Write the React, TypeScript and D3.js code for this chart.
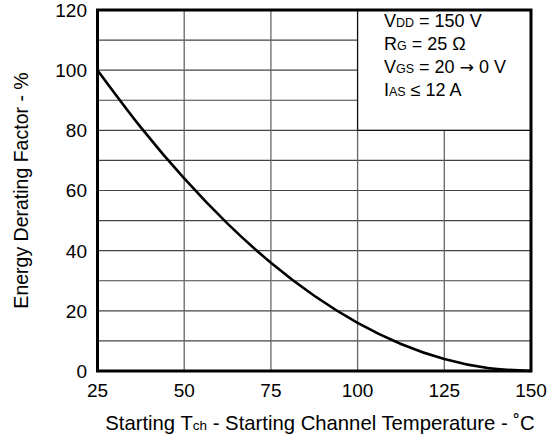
import { useEffect, useRef } from 'react';
import * as d3 from 'd3';

// readings (starting Tch in degC, derating factor in %)
const temps = [25, 37.5, 50, 62.5, 75, 87.5, 100, 112.5, 125, 137.5, 150];
const factors = [100, 81, 64, 49, 36, 25, 16, 9, 4, 1, 0];

const xTicks = [25, 50, 75, 100, 125, 150];
const yTicks = [0, 20, 40, 60, 80, 100, 120];
const yGrid = [10, 20, 30, 40, 50, 60, 70, 80, 90, 100, 110];

// legend lines: [main, subscript, rest]
const legendRows: [string, string, string][] = [
	['V', 'DD', ' = 150 V'],
	['R', 'G', ' = 25 Ω'],
	['V', 'GS', ' = 20 → 0 V'],
	['I', 'AS', ' ≤ 12 A'],
];

const FONT = "'Liberation Sans', Arial, sans-serif";

const App: React.FC = () => {
	const ref = useRef<SVGSVGElement>(null);

	useEffect(() => {
		if (!ref.current) return;
		const svg = d3.select(ref.current);
		svg.selectAll('*').remove();

		const margin = { left: 97.5, right: 531, top: 10, bottom: 371 };

		const x = d3.scaleLinear().domain([25, 150]).range([margin.left, margin.right]);
		const y = d3.scaleLinear().domain([0, 120]).range([margin.bottom, margin.top]);

		const g = svg.append('g');

		// grid
		g.selectAll('.hgrid')
			.data(yGrid)
			.enter()
			.append('line')
			.attr('x1', margin.left)
			.attr('x2', margin.right)
			.attr('y1', (d) => y(d))
			.attr('y2', (d) => y(d))
			.attr('stroke', '#444')
			.attr('stroke-width', 1.2);

		g.selectAll('.vgrid')
			.data(xTicks.slice(1, -1))
			.enter()
			.append('line')
			.attr('x1', (d) => x(d))
			.attr('x2', (d) => x(d))
			.attr('y1', margin.top)
			.attr('y2', margin.bottom)
			.attr('stroke', '#666')
			.attr('stroke-width', 1.3);

		// legend box covering the upper right cells
		g.append('rect')
			.attr('x', x(100))
			.attr('y', y(120))
			.attr('width', x(150) - x(100))
			.attr('height', y(80) - y(120))
			.attr('fill', '#fff')
			.attr('stroke', '#111')
			.attr('stroke-width', 1.3);

		const legend = g
			.append('text')
			.attr('font-family', FONT)
			.attr('font-size', 18)
			.attr('fill', '#000');
		legendRows.forEach((row, i) => {
			const ty = 27 + i * 23;
			legend.append('tspan').attr('x', 384).attr('y', ty).text(row[0]);
			legend.append('tspan').attr('font-size', 12.5).text(row[1]);
			const parts = row[2].split('→');
			legend.append('tspan').text(parts[0]);
			if (parts.length > 1) {
				legend.append('tspan').attr('font-family', "'DejaVu Sans', sans-serif").attr('font-size', 17).text('→');
				legend.append('tspan').attr('font-family', FONT).attr('font-size', 18).text(parts[1]);
			}
		});

		// curve
		const line = d3
			.line<number>()
			.x((_, i) => x(temps[i]))
			.y((d) => y(d))
			.curve(d3.curveMonotoneX);

		g.append('path')
			.datum(factors)
			.attr('fill', 'none')
			.attr('stroke', '#000')
			.attr('stroke-width', 2.6)
			.attr('d', line);

		// frame
		g.append('rect')
			.attr('x', margin.left)
			.attr('y', margin.top)
			.attr('width', margin.right - margin.left)
			.attr('height', margin.bottom - margin.top)
			.attr('fill', 'none')
			.attr('stroke', '#000')
			.attr('stroke-width', 3);

		// tick labels
		g.selectAll('.xlab')
			.data(xTicks)
			.enter()
			.append('text')
			.attr('x', (d) => x(d))
			.attr('y', 397)
			.attr('text-anchor', 'middle')
			.attr('font-family', FONT)
			.attr('font-size', 19)
			.text((d) => d);

		g.selectAll('.ylab')
			.data(yTicks)
			.enter()
			.append('text')
			.attr('x', 87)
			.attr('y', (d) => y(d))
			.attr('dy', '0.36em')
			.attr('text-anchor', 'end')
			.attr('font-family', FONT)
			.attr('font-size', 19)
			.text((d) => d);

		// axis titles
		const xt = g
			.append('text')
			.attr('x', 320)
			.attr('y', 430)
			.attr('text-anchor', 'middle')
			.attr('font-family', FONT)
			.attr('font-size', 20.3);
		xt.append('tspan').text('Starting T');
		xt.append('tspan').attr('font-size', 13.5).text('ch');
		xt.append('tspan').text(' - Starting Channel Temperature - ˚C');

		g.append('text')
			.attr('transform', `translate(28, ${(margin.top + margin.bottom) / 2}) rotate(-90)`)
			.attr('text-anchor', 'middle')
			.attr('font-family', FONT)
			.attr('font-size', 19.5)
			.text('Energy Derating Factor - %');
	}, []);

	return (
		<div style={{ position: 'absolute', left: 0, top: 0 }}>
			<svg ref={ref} width={557} height={442} style={{ display: 'block', background: '#fff' }}></svg>
		</div>
	);
};

export default App;
